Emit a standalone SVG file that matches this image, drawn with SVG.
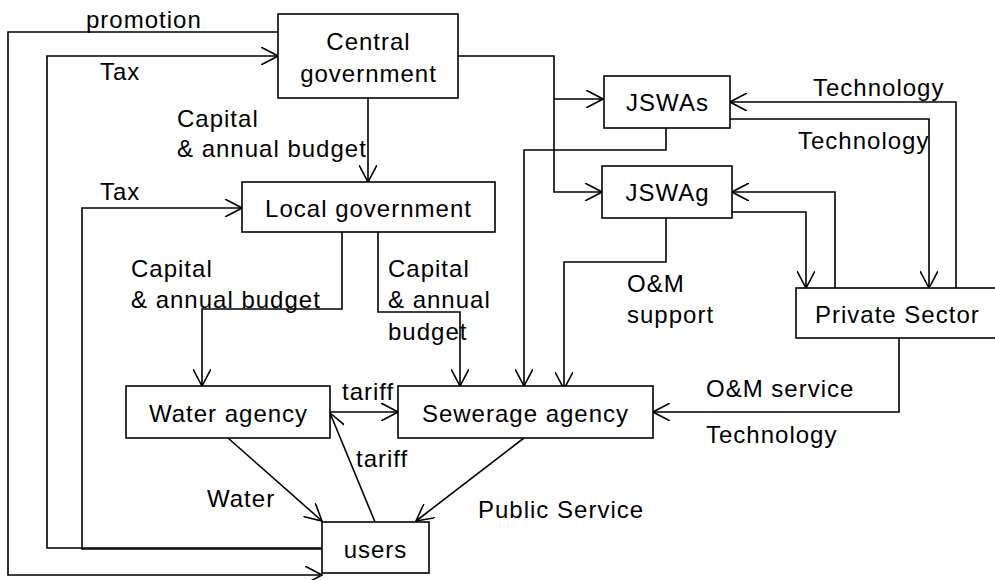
<svg xmlns="http://www.w3.org/2000/svg" width="995" height="580" viewBox="0 0 995 580">
<style>
.box{fill:#fff;stroke:#000;stroke-width:1.6}
.ln{fill:none;stroke:#000;stroke-width:1.6;marker-end:url(#ah)}
text{font-family:"Liberation Sans",Arial,sans-serif;font-size:24px;letter-spacing:1px;fill:#000}
.c{text-anchor:middle}
</style>
<defs>
<marker id="ah" viewBox="0 0 18 18" refX="17" refY="9" markerWidth="18" markerHeight="18" markerUnits="userSpaceOnUse" orient="auto">
<path d="M0,0 L17,9 L0,18" fill="none" stroke="#000" stroke-width="1.6"/>
</marker>
</defs>
<rect width="995" height="580" fill="#fff"/>
<g id="connectors">
<path class="ln" d="M278,32 H8 V575 H322"/>
<path class="ln" d="M322,548 H47 V56 H278"/>
<path class="ln" d="M322,549 H82 V208 H242"/>
<path class="ln" d="M368,98 V182"/>
<path class="ln" d="M458,56 H554 V99 H603"/>
<path class="ln" d="M554,99 V192 H602"/>
<path class="ln" d="M956,288 V102 H730"/>
<path class="ln" d="M730,119 H929 V288"/>
<path class="ln" d="M835,288 V192 H732"/>
<path class="ln" d="M732,212 H806 V288"/>
<path class="ln" d="M666,128 V150 H524 V386"/>
<path class="ln" d="M666,218 V262 H564 V389"/>
<path class="ln" d="M899,338 V412 H653"/>
<path class="ln" d="M342,232 V309 H202 V386"/>
<path class="ln" d="M378,232 V312 H460 V386"/>
<path class="ln" d="M330,412 H398"/>
<path class="ln" d="M375,522 L330,413"/>
<path class="ln" d="M228,438 L322,521"/>
<path class="ln" d="M524,438 L416,521"/>
</g>
<g id="labels">
<text x="86" y="28">promotion</text>
<text x="100" y="80">Tax</text>
<text x="100" y="200">Tax</text>
<text x="177" y="127">Capital</text>
<text x="177" y="157">&amp; annual budget</text>
<text x="813" y="96">Technology</text>
<text x="798" y="149">Technology</text>
<text x="131" y="277">Capital</text>
<text x="131" y="308">&amp; annual budget</text>
<text x="388" y="277">Capital</text>
<text x="388" y="308">&amp; annual</text>
<text x="388" y="340">budget</text>
<text x="627" y="292">O&amp;M</text>
<text x="627" y="323">support</text>
<text x="342" y="400">tariff</text>
<text x="356" y="467">tariff</text>
<text x="207" y="507">Water</text>
<text x="478" y="518">Public Service</text>
<text x="706" y="397">O&amp;M service</text>
<text x="706" y="443">Technology</text>
</g>
<g id="central">
<rect class="box" x="278" y="14" width="180" height="84"/>
<text class="c" x="368.5" y="50">Central</text>
<text class="c" x="368.5" y="82">government</text>
</g>
<g id="local">
<rect class="box" x="242" y="182" width="253" height="50"/>
<text class="c" x="368.5" y="217">Local government</text>
</g>
<g id="jswas">
<rect class="box" x="604" y="76" width="126" height="52"/>
<text class="c" x="667.5" y="111">JSWAs</text>
</g>
<g id="jswag">
<rect class="box" x="602" y="166" width="130" height="52"/>
<text class="c" x="667.5" y="201">JSWAg</text>
</g>
<g id="private">
<rect class="box" x="796" y="288" width="210" height="50"/>
<text x="815" y="323">Private Sector</text>
</g>
<g id="water">
<rect class="box" x="126" y="386" width="204" height="52"/>
<text class="c" x="228.5" y="422">Water agency</text>
</g>
<g id="sewerage">
<rect class="box" x="398" y="386" width="255" height="52"/>
<text class="c" x="525.5" y="422">Sewerage agency</text>
</g>
<g id="users">
<rect class="box" x="322" y="522" width="107" height="51"/>
<text class="c" x="375.5" y="558">users</text>
</g>
</svg>
